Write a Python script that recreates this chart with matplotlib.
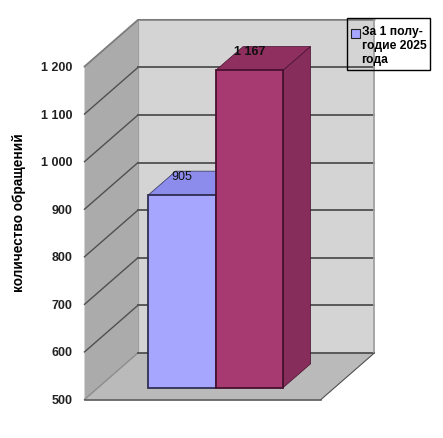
from matplotlib import pyplot as plt
from matplotlib.patches import Polygon, Patch

W, H = 443, 438

values = [905, 1167]
labels = ['905', '1 167']
y_ticks = [500, 600, 700, 800, 900, 1000, 1100, 1200]
y_tick_labels = ['500', '600', '700', '800', '900', '1 000', '1 100', '1 200']
y_title = 'количество обращений'
legend_text = 'За 1 полу-\nгодие 2025\nгода'

# front, top, side, edge
colors = [('#A6A6FF', '#8C8CEC', '#8C8CEC', '#2F2F55'),
          ('#A83A72', '#8E2F60', '#872D5B', '#47102F')]

# 3d box in axis units: x 0..1 is the front floor edge
DX = 0.226
DY = 98
BAR_X0 = 0.27
BAR_W = 0.285
BAR_DX = 0.116
BAR_DY = 50
BAR_LIFT = 25  # bars stand further back on the floor than the front edge
GRID = '#505050'


def poly(ax, pts, fc, ec='none', lw=0.0, z=1):
    ax.add_patch(Polygon(pts, closed=True, facecolor=fc, edgecolor=ec,
                         linewidth=lw, zorder=z, clip_on=False))


def bar3d(ax, x0, val, col, z):
    front, top, side, edge = col
    x1 = x0 + BAR_W
    base = y_ticks[0] + BAR_LIFT
    val = val + BAR_LIFT
    poly(ax, [(x0, val), (x1, val), (x1 + BAR_DX, val + BAR_DY), (x0 + BAR_DX, val + BAR_DY)],
         top, edge, 0.5, z)
    poly(ax, [(x1, base), (x1 + BAR_DX, base + BAR_DY), (x1 + BAR_DX, val + BAR_DY), (x1, val)],
         side, edge, 0.5, z)
    poly(ax, [(x0, base), (x1, base), (x1, val), (x0, val)],
         front, edge, 1.3, z + 0.1)


if __name__ == '__main__':
    plt.rcParams['font.family'] = ['Liberation Sans', 'DejaVu Sans']
    fig = plt.figure(figsize=(W / 100, H / 100), dpi=100)
    ax = fig.add_axes([84.5 / W, 1 - 399.5 / H, 236.5 / W, 333 / H])
    ax.set_xlim(0, 1)
    ax.set_ylim(500, 1200)

    lo, hi = y_ticks[0], y_ticks[-1]
    poly(ax, [(DX, lo + DY), (1 + DX, lo + DY), (1 + DX, hi + DY), (DX, hi + DY)], '#D4D4D4')
    poly(ax, [(0, lo), (DX, lo + DY), (DX, hi + DY), (0, hi)], '#ABABAB')
    poly(ax, [(0, lo), (1, lo), (1 + DX, lo + DY), (DX, lo + DY)], '#BABABA')

    for t in y_ticks:
        if t == hi:
            continue
        # the 500 diagonal is only a faint floor edge
        side_col = '#8C8C8C' if t == lo else GRID
        ax.plot([0, DX], [t, t + DY], color=side_col, lw=1.0, zorder=2, clip_on=False)
        ax.plot([DX, 1 + DX], [t + DY, t + DY], color=GRID, lw=1.3, zorder=2, clip_on=False)
    # outline of the box
    ax.plot([0, DX, 1 + DX], [hi, hi + DY, hi + DY], color='#7C7C7C', lw=1.3, zorder=2, clip_on=False)
    ax.plot([1 + DX, 1 + DX], [hi + DY, lo + DY], color='#A0A0A0', lw=1.3, zorder=2, clip_on=False)
    ax.plot([DX, DX], [lo + DY, hi + DY], color='#9C9C9C', lw=0.8, zorder=1.5, clip_on=False)
    ax.plot([0, 1], [lo, lo], color='#4A4A4A', lw=1.1, zorder=3, clip_on=False)
    ax.plot([1, 1 + DX], [lo, lo + DY], color='#505050', lw=0.8, zorder=3, clip_on=False)

    for i, v in enumerate(values):
        x0 = BAR_X0 + i * BAR_W
        bar3d(ax, x0, v, colors[i], 4 + i)
        ax.annotate(labels[i], (x0 + BAR_W / 2, v + BAR_LIFT + BAR_DY / 2), xytext=(0, 4.5),
                    textcoords='offset points', ha='center', va='center', fontsize=9,
                    fontweight='bold' if i == 1 else 'normal', color='#101010', zorder=8,
                    annotation_clip=False)

    for s in ax.spines.values():
        s.set_visible(False)
    ax.patch.set_visible(False)
    ax.set_xticks([])
    ax.set_yticks(y_ticks)
    ax.set_yticklabels(y_tick_labels, fontsize=9, fontweight='bold', color='#222222')
    ax.tick_params(axis='y', length=0, pad=8.5)
    ax.set_ylabel(y_title, fontsize=9.8, fontweight='bold', color='black')
    ax.yaxis.set_label_coords(-58 / 236.5, 0.56)

    # the tiny blank title only adds room above the label
    leg = ax.legend(handles=[Patch(facecolor=colors[0][0], edgecolor='#222222', linewidth=0.8)],
                    labels=[legend_text], loc='upper left',
                    bbox_to_anchor=(347 / W, 1 - 18 / H), bbox_transform=fig.transFigure,
                    prop={'size': 8.7, 'weight': 'bold'}, frameon=True, fancybox=False,
                    edgecolor='black', facecolor='none', borderaxespad=0,
                    borderpad=0.35, handlelength=0.75, handleheight=0.75, handletextpad=0.1,
                    labelspacing=0, title=' ', title_fontsize=2.5)
    leg.get_frame().set_alpha(None)
    leg.get_frame().set_facecolor('none')
    leg.get_frame().set_edgecolor('black')
    leg.get_frame().set_linewidth(1.0)
    leg.set_zorder(10)
    # key sits beside the first line of the label
    leg.legend_handles[0].set_y(9)

    plt.savefig('out.png', dpi=100)
